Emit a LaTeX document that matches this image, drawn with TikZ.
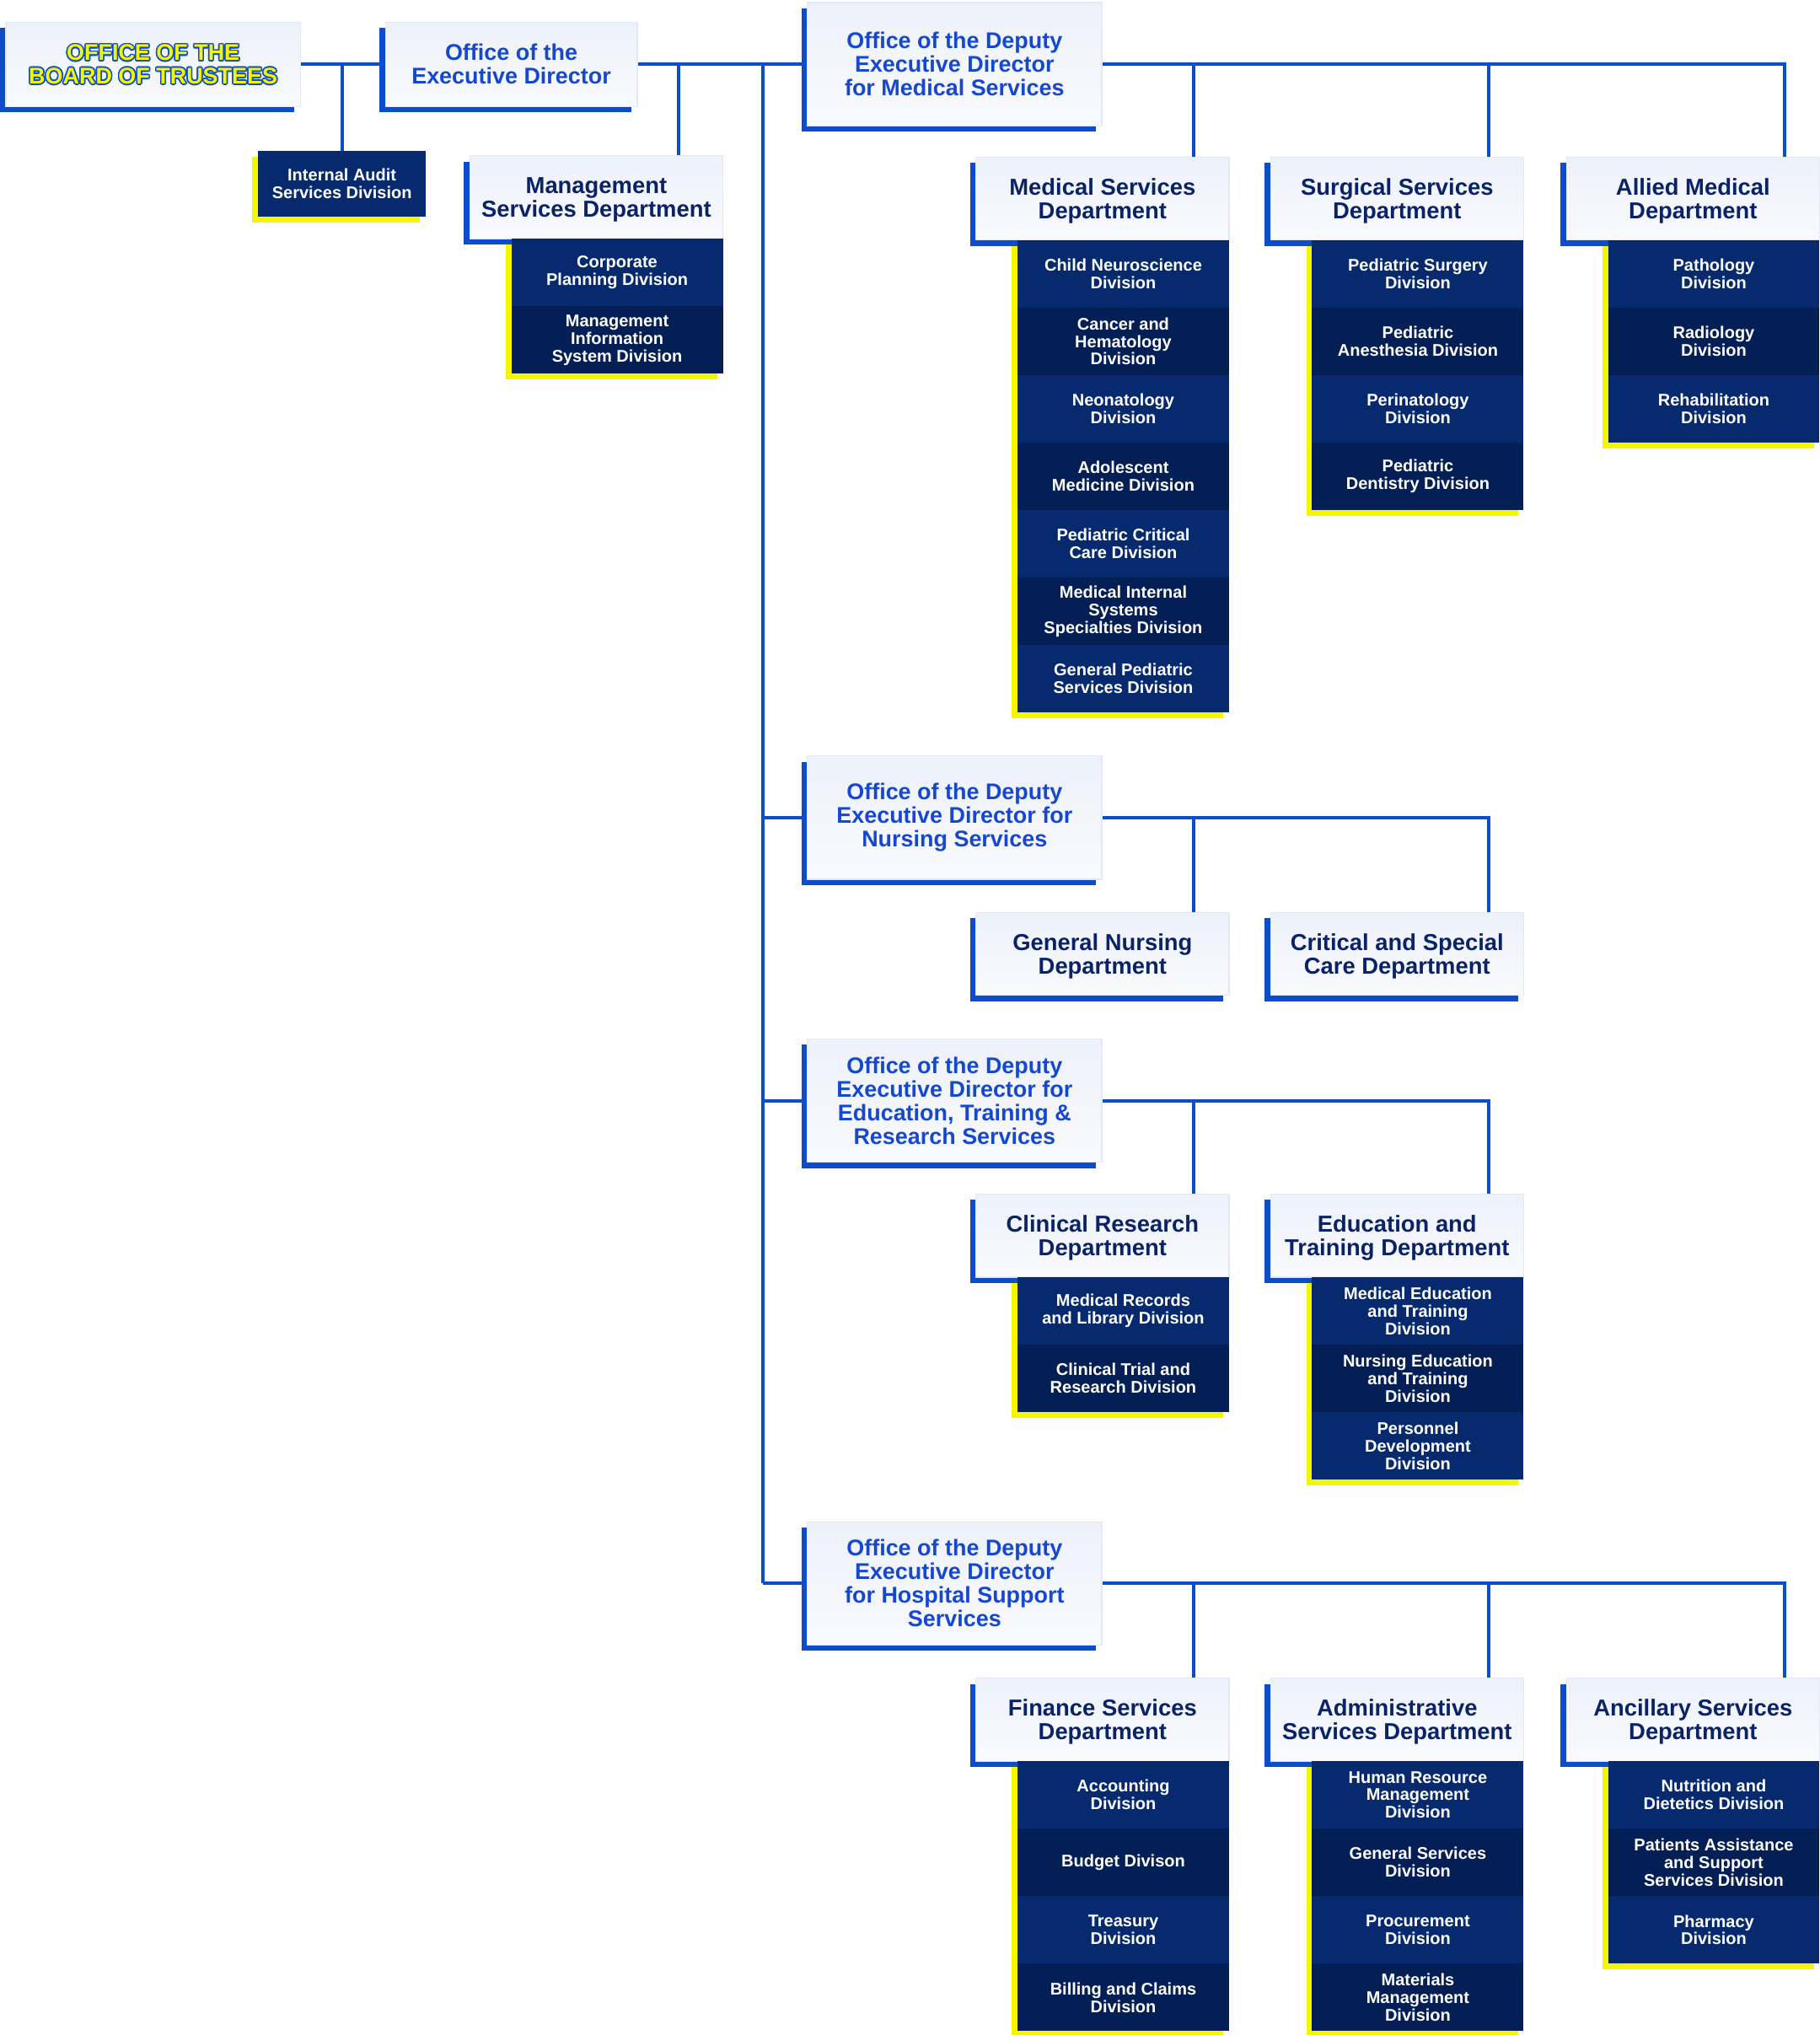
\documentclass[tikz,border=0pt]{standalone}
\usepackage{fontspec}
\setmainfont{Liberation Sans}
\usepackage[copies]{contour}
\contourlength{1pt}
\usetikzlibrary{calc, shadows, backgrounds}
\definecolor{cline}{HTML}{0B4DCB}
\definecolor{cdeputy}{HTML}{1548CF}
\definecolor{cnavy}{HTML}{0A2266}
\definecolor{cpaperA}{HTML}{EDF1FA}
\definecolor{cpaperB}{HTML}{F9FAFE}
\definecolor{cpaperC}{HTML}{E2E8F4}
\definecolor{crow1}{HTML}{062A6D}
\definecolor{crow0}{HTML}{041F56}
\definecolor{cyellow}{HTML}{F6F600}
\tikzset{
  every picture/.style={line width=2.6pt},
  paper/.style={top color=cpaperA, bottom color=cpaperB, draw=cpaperC, line width=0.8pt, outer sep=0pt, inner sep=0pt, align=center,
    general shadow={fill=cline, shadow xshift=-4.5pt, shadow yshift=-4.5pt}},
  board/.style={paper, text=cyellow, text depth=0pt, minimum width=227pt, minimum height=65pt, font=\fontsize{17.5}{18}\selectfont\bfseries},
  chief/.style={paper, text=cdeputy, minimum width=194pt, minimum height=65pt, font=\fontsize{17.5}{18}\selectfont\bfseries},
  deputy/.style={paper, text=cdeputy, minimum width=227pt, minimum height=95pt, font=\fontsize{17.5}{18.2}\selectfont\bfseries},
  dept/.style={paper, text=cnavy, text depth=0pt, minimum width=195pt, minimum height=64pt, font=\fontsize{17.8}{18}\selectfont\bfseries},
  division/.style={fill=crow#1, text=white, minimum width=163pt, minimum height=52pt, outer sep=0pt, inner sep=0pt, align=center,
    font=\fontsize{13}{13.6}\selectfont\bfseries, general shadow={fill=cyellow, shadow xshift=-4.5pt, shadow yshift=-4.5pt}},
  division/.default=1,
  link/.style={draw=cline, line width=2.6pt},
}

\begin{document}
\begin{tikzpicture}[x=1pt, y=-1pt]
  \useasboundingbox (0,0) rectangle (1402,1568);
  \coordinate (trunk) at (588,0);
  % board, executive director and their units
  \node[board] (bot) at (118,49.5) {\contour{cline}{OFFICE OF THE}\\\contour{cline}{BOARD OF TRUSTEES}};
  \node[chief] (ed) at (394,49.5) {Office of the\\Executive Director};
  \node[division, minimum width=129pt, minimum height=51pt] (ia) at (263.5,141.5) {Internal Audit\\Services Division};
  \node[dept] (msd) at (459.5,152) {Management\\Services Department};
  \foreach \lbl [count=\i] in {{Corporate\\Planning Division}, {Management\\Information\\System Division}} {
    \pgfmathtruncatemacro\rowc{mod(\i,2)}
    \node[division=\rowc, anchor=north east] (msd-\i) at ($(msd.south east)+(0,52*\i-52)$) {\lbl};
  }
  % medical services
  \node[deputy] (dmed) at (735.5,49.5) {Office of the Deputy\\Executive Director\\for Medical Services};
  \node[dept] (mds) at (849.5,153) {Medical Services\\Department};
  \node[dept] (ssd) at (1076.5,153) {Surgical Services\\Department};
  \node[dept] (amd) at (1304.5,153) {Allied Medical\\Department};
  \foreach \lbl [count=\i] in {{Child Neuroscience\\Division}, {Cancer and\\Hematology\\Division}, {Neonatology\\Division},
      {Adolescent\\Medicine Division}, {Pediatric Critical\\Care Division}, {Medical Internal\\Systems\\Specialties Division},
      {General Pediatric\\Services Division}} {
    \pgfmathtruncatemacro\rowc{mod(\i,2)}
    \node[division=\rowc, anchor=north east] (mds-\i) at ($(mds.south east)+(0,52*\i-52)$) {\lbl};
  }
  \foreach \lbl [count=\i] in {{Pediatric Surgery\\Division}, {Pediatric\\Anesthesia Division}, {Perinatology\\Division},
      {Pediatric\\Dentistry Division}} {
    \pgfmathtruncatemacro\rowc{mod(\i,2)}
    \node[division=\rowc, anchor=north east] (ssd-\i) at ($(ssd.south east)+(0,52*\i-52)$) {\lbl};
  }
  \foreach \lbl [count=\i] in {{Pathology\\Division}, {Radiology\\Division}, {Rehabilitation\\Division}} {
    \pgfmathtruncatemacro\rowc{mod(\i,2)}
    \node[division=\rowc, anchor=north east] (amd-\i) at ($(amd.south east)+(0,52*\i-52)$) {\lbl};
  }
  % nursing services
  \node[deputy] (dnurse) at (735.5,630) {Office of the Deputy\\Executive Director for\\Nursing Services};
  \node[dept] (gnd) at (849.5,735) {General Nursing\\Department};
  \node[dept] (cscd) at (1076.5,735) {Critical and Special\\Care Department};
  % education, training and research
  \node[deputy] (dedu) at (735.5,848) {Office of the Deputy\\Executive Director for\\Education, Training \&\\Research Services};
  \node[dept] (crd) at (849.5,952) {Clinical Research\\Department};
  \node[dept] (etd) at (1076.5,952) {Education and\\Training Department};
  \foreach \lbl [count=\i] in {{Medical Records\\and Library Division}, {Clinical Trial and\\Research Division}} {
    \pgfmathtruncatemacro\rowc{mod(\i,2)}
    \node[division=\rowc, anchor=north east] (crd-\i) at ($(crd.south east)+(0,52*\i-52)$) {\lbl};
  }
  \foreach \lbl [count=\i] in {{Medical Education\\and Training\\Division}, {Nursing Education\\and Training\\Division},
      {Personnel\\Development\\Division}} {
    \pgfmathtruncatemacro\rowc{mod(\i,2)}
    \node[division=\rowc, anchor=north east] (etd-\i) at ($(etd.south east)+(0,52*\i-52)$) {\lbl};
  }
  % hospital support
  \node[deputy] (dhosp) at (735.5,1220) {Office of the Deputy\\Executive Director\\for Hospital Support\\Services};
  \node[dept] (fsd) at (849.5,1325) {Finance Services\\Department};
  \node[dept] (asd) at (1076.5,1325) {Administrative\\Services Department};
  \node[dept] (ancd) at (1304.5,1325) {Ancillary Services\\Department};
  \foreach \lbl [count=\i] in {{Accounting\\Division}, {Budget Divison}, {Treasury\\Division}, {Billing and Claims\\Division}} {
    \pgfmathtruncatemacro\rowc{mod(\i,2)}
    \node[division=\rowc, anchor=north east] (fsd-\i) at ($(fsd.south east)+(0,52*\i-52)$) {\lbl};
  }
  \foreach \lbl [count=\i] in {{Human Resource\\Management\\Division}, {General Services\\Division}, {Procurement\\Division},
      {Materials\\Management\\Division}} {
    \pgfmathtruncatemacro\rowc{mod(\i,2)}
    \node[division=\rowc, anchor=north east] (asd-\i) at ($(asd.south east)+(0,52*\i-52)$) {\lbl};
  }
  \foreach \lbl [count=\i] in {{Nutrition and\\Dietetics Division}, {Patients Assistance\\and Support\\Services Division},
      {Pharmacy\\Division}} {
    \pgfmathtruncatemacro\rowc{mod(\i,2)}
    \node[division=\rowc, anchor=north east] (ancd-\i) at ($(ancd.south east)+(0,52*\i-52)$) {\lbl};
  }
  % connectors
  \begin{scope}[on background layer]
    \draw[link] (bot.east) -- (ed.west);
    \draw[link] (ia.north) -- (ia.north |- bot.east);
    \draw[link] (ed.east) -- (ed.east -| dmed.west);
    \draw[link] ($(msd.north east)+(-34,0)$) |- (ed.east);
    \draw[link] (ed.east -| trunk) -- (dhosp.west -| trunk);
    \foreach \d in {dnurse, dedu, dhosp} \draw[link] (\d.west -| trunk) -- (\d.west);
    \foreach \d in {mds, ssd, amd} \draw[link] ($(\d.north east)+(-27,0)$) |- (dmed.east);
    \foreach \d in {gnd, cscd} \draw[link] ($(\d.north east)+(-27,0)$) |- (dnurse.east);
    \foreach \d in {crd, etd} \draw[link] ($(\d.north east)+(-27,0)$) |- (dedu.east);
    \foreach \d in {fsd, asd, ancd} \draw[link] ($(\d.north east)+(-27,0)$) |- (dhosp.east);
  \end{scope}
\end{tikzpicture}
\end{document}
